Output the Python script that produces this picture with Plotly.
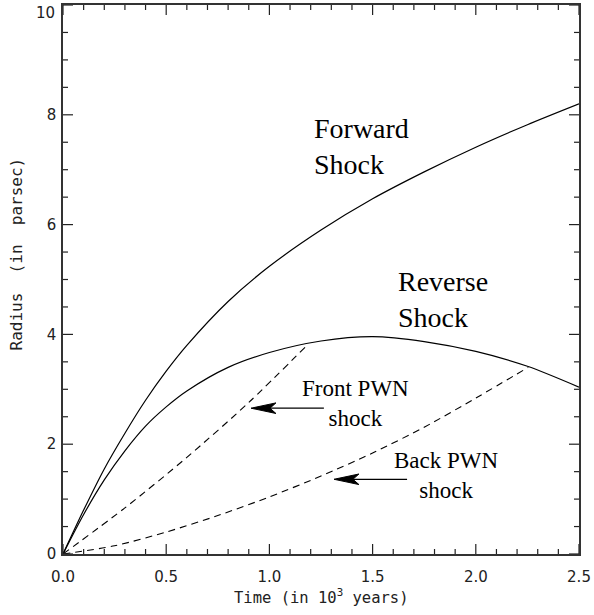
import plotly.graph_objects as go

# ---- data ----
fwd_t = [0, 0.1, 0.2, 0.3, 0.4, 0.5, 0.6, 0.8, 1.0, 1.25, 1.5, 1.75, 2.0, 2.25, 2.5]
fwd_r = [0, 0.80, 1.55, 2.20, 2.80, 3.33, 3.80, 4.60, 5.24, 5.90, 6.47, 6.96, 7.41, 7.82, 8.20]

rev_t = [0, 0.1, 0.2, 0.3, 0.4, 0.5, 0.6, 0.8, 1.0, 1.25, 1.5, 1.75, 2.0, 2.25, 2.5]
rev_r = [0, 0.72, 1.35, 1.88, 2.33, 2.68, 2.97, 3.40, 3.67, 3.88, 3.96, 3.87, 3.69, 3.42, 3.04]

front_t = [0, 0.3, 0.6, 0.9, 1.19]
front_r = [0, 0.84, 1.76, 2.76, 3.83]

back_t = [0, 0.25, 0.5, 0.75, 1.0, 1.25, 1.5, 1.75, 2.0, 2.254]
back_r = [0, 0.15, 0.40, 0.70, 1.04, 1.42, 1.84, 2.31, 2.84, 3.40]

x_ticks = [0.0, 0.5, 1.0, 1.5, 2.0, 2.5]
x_ticklabels = ["0.0", "0.5", "1.0", "1.5", "2.0", "2.5"]
x_minor = [0.1, 0.2, 0.3, 0.4, 0.6, 0.7, 0.8, 0.9, 1.1, 1.2, 1.3, 1.4,
           1.6, 1.7, 1.8, 1.9, 2.1, 2.2, 2.3, 2.4]
y_ticks = [0, 2, 4, 6, 8, 10]
y_ticklabels = ["0", "2", "4", "6", "8", "10"]
y_minor = [0.5, 1, 1.5, 2.5, 3, 3.5, 4.5, 5, 5.5, 6.5, 7, 7.5, 8.5, 9, 9.5]

labels = [
    ("Forward<br>Shock", 1.2066, 7.42, "left", 28),
    ("Reverse<br>Shock", 1.612, 4.63, "left", 28),
    ("Front PWN<br>shock", 1.419, 2.74, "center", 23),
    ("Back PWN<br>shock", 1.858, 1.43, "center", 23),
]
# arrows: (tip_t, tail_t, r)
arrows = [(0.911, 1.264, 2.656), (1.313, 1.667, 1.361)]

X0, X1 = 0, 2.5
Y0, Y1 = 0, 10

fig = go.Figure()
for t, r in [(fwd_t, fwd_r), (rev_t, rev_r)]:
    fig.add_trace(go.Scatter(x=t, y=r, mode="lines",
                             line=dict(color="black", width=1.2, shape="spline", smoothing=0.8),
                             showlegend=False, hoverinfo="skip"))
for t, r in [(front_t, front_r), (back_t, back_r)]:
    fig.add_trace(go.Scatter(x=t, y=r, mode="lines",
                             line=dict(color="black", width=1.1, dash="7px,5px", shape="spline", smoothing=0.8),
                             showlegend=False, hoverinfo="skip"))

serif = "Liberation Serif, Times New Roman, serif"
sans = "DejaVu Sans, sans-serif"
mono = "DejaVu Sans Mono, monospace"
anns = []
for txt, x, y, al, sz in labels:
    anns.append(dict(text=txt, x=x, y=y, xref="x", yref="y", showarrow=False,
                     xanchor=al, yanchor="middle", align=al,
                     font=dict(family=serif, size=sz, color="black")))

shapes = []
px_t = 2.5 / 518.0
px_r = 10.0 / 551.0
for tip, tail, r in arrows:
    back = tip + 25 * px_t
    notch = tip + 19 * px_t
    hw = 5.3 * px_r
    shapes.append(dict(type="line", xref="x", yref="y", x0=notch, x1=tail, y0=r, y1=r,
                       line=dict(color="black", width=1.3)))
    shapes.append(dict(type="path", xref="x", yref="y",
                       path=f"M {tip},{r} L {back},{r + hw} L {notch},{r} L {back},{r - hw} Z",
                       fillcolor="black", line=dict(color="black", width=1)))

# inward tick marks on all four sides (major 10 px, minor 5 px)
tick_line = dict(color="#222", width=1.2)
for vals, ln in [(x_ticks, 10), (x_minor, 5)]:
    for v in vals:
        shapes.append(dict(type="line", xref="x", yref="y", ysizemode="pixel", yanchor=Y0,
                           x0=v, x1=v, y0=0, y1=ln, line=tick_line))
        shapes.append(dict(type="line", xref="x", yref="y", ysizemode="pixel", yanchor=Y1,
                           x0=v, x1=v, y0=0, y1=-ln, line=tick_line))
for vals, ln in [(y_ticks, 10), (y_minor, 5)]:
    for v in vals:
        shapes.append(dict(type="line", xref="x", yref="y", xsizemode="pixel", xanchor=X0,
                           y0=v, y1=v, x0=0, x1=ln, line=tick_line))
        shapes.append(dict(type="line", xref="x", yref="y", xsizemode="pixel", xanchor=X1,
                           y0=v, y1=v, x0=0, x1=-ln, line=tick_line))

anns.append(dict(text="Time (in 10<sup>3</sup> years)", x=0.5, y=-0.078, xref="paper", yref="paper",
                 showarrow=False, xanchor="center", yanchor="middle",
                 font=dict(family=mono, size=15.5, color="#222")))
anns.append(dict(text="Radius  (in  parsec)", x=-0.0907, y=0.546, xref="paper", yref="paper",
                 showarrow=False, xanchor="center", yanchor="middle", textangle=-90,
                 font=dict(family=mono, size=16, color="#222")))
# top y tick label (drawn below its tick, as in the reference)
anns.append(dict(text=y_ticklabels[-1], x=-0.0116, y=y_ticks[-1], xref="paper", yref="y",
                 showarrow=False, xanchor="right", yanchor="top", yshift=3,
                 font=dict(family=sans, size=15, color="#222")))

axis_common = dict(ticks="", mirror=True, showline=True, linecolor="#333", linewidth=1.5,
                   showgrid=False, zeroline=False,
                   tickfont=dict(family=sans, size=15, color="#222"))
fig.update_layout(
    width=594, height=615,
    margin=dict(l=63, r=13, t=3, b=61),
    plot_bgcolor="white", paper_bgcolor="white",
    xaxis=dict(range=[X0, X1], tickmode="array", tickvals=x_ticks, ticktext=x_ticklabels,
               ticklabelstandoff=8, **axis_common),
    yaxis=dict(range=[Y0, Y1], tickmode="array", tickvals=y_ticks[:-1], ticktext=y_ticklabels[:-1],
               ticklabelstandoff=2, **axis_common),
    annotations=anns, shapes=shapes,
)
fig.write_html("out.html")
